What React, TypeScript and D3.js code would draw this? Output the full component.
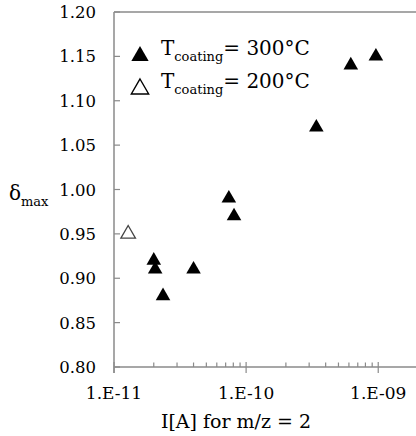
import React from "react"
import * as d3 from "d3"

// data
const hot300X = [2.0e-11, 2.05e-11, 2.35e-11, 4.0e-11, 7.4e-11, 8.1e-11, 3.4e-10, 6.2e-10, 9.6e-10]
const hot300Y = [0.92, 0.91, 0.88, 0.91, 0.99, 0.97, 1.07, 1.14, 1.15]
const hot200X = [1.28e-11]
const hot200Y = [0.95]
const yTicks = [0.8, 0.85, 0.9, 0.95, 1.0, 1.05, 1.1, 1.15, 1.2]
const xMajor = [1e-11, 1e-10, 1e-9]
const xLabels = ["1.E-11", "1.E-10", "1.E-09"]
const legendLabels = ["= 300°C", "= 200°C"]

const W = 416
const H = 436
const FONT = "DejaVu Serif"
const AXIS = "#8a8a8a"

const App = () => {
	const x = d3.scaleLog().domain([1e-11, 2e-9]).range([114, 418])
	const y = d3.scaleLinear().domain([0.8, 1.2]).range([367, 12])
	const x0 = x.range()[0]
	const y0 = y.range()[0]

	const tri = d3.symbol().type(d3.symbolTriangle).size(92)
	const triLegend = d3.symbol().type(d3.symbolTriangle).size(130)

	// minor ticks 2..9 for each decade
	const xMinor: number[] = []
	xMajor.forEach(m => {
		for (let k = 2; k <= 9; k++) {
			const v = m * k
			if (x(v) <= W) xMinor.push(v)
		}
	})

	const pts300 = hot300X.map((v, i) => ({ x: v, y: hot300Y[i] }))
	const pts200 = hot200X.map((v, i) => ({ x: v, y: hot200Y[i] }))

	return (
		<svg
			width={W}
			height={H}
			style={{ position: "absolute", left: 0, top: 0, background: "#fff" }}
		>
			<g fontFamily={FONT}>
				{/* top border */}
				<line x1={x0} x2={W} y1={y.range()[1]} y2={y.range()[1]} stroke={AXIS} strokeWidth={1.5} />
				{/* y axis */}
				<line x1={x0} x2={x0} y1={y.range()[1]} y2={y0 + 6} stroke={AXIS} strokeWidth={1.5} />
				{yTicks.map(t => (
					<g key={t}>
						<line x1={x0} x2={x0 + 6} y1={y(t)} y2={y(t)} stroke={AXIS} strokeWidth={1.2} />
						<text x={96} y={y(t) + 6} textAnchor="end" fontSize={16.5} fill="#000">
							{d3.format(".2f")(t)}
						</text>
					</g>
				))}
				{/* x axis */}
				<line x1={x0} x2={W} y1={y0} y2={y0} stroke={AXIS} strokeWidth={1.5} />
				{xMinor.map(t => (
					<line key={t} x1={x(t)} x2={x(t)} y1={y0} y2={y0 - 4.5} stroke={AXIS} strokeWidth={1.2} />
				))}
				{xMajor.map((t, i) => (
					<g key={t}>
						<line x1={x(t)} x2={x(t)} y1={y0 - 5} y2={y0 + 6} stroke={AXIS} strokeWidth={1.2} />
						<text x={x(t)} y={y0 + 32} textAnchor="middle" fontSize={17} fill="#000">
							{xLabels[i]}
						</text>
					</g>
				))}

				{/* axis titles */}
				<text x={236} y={428} textAnchor="middle" fontSize={19} fill="#000">
					I[A] for m/z = 2
				</text>
				<text x={9} y={200} fontSize={20} fill="#000">
					δ
					<tspan fontSize={13} dy={6}>
						max
					</tspan>
				</text>

				{/* points */}
				{pts300.map((d, i) => (
					<path key={i} d={tri() as string} transform={`translate(${x(d.x)},${y(d.y)})`} fill="#000" />
				))}
				{pts200.map((d, i) => (
					<path
						key={i}
						d={tri() as string}
						transform={`translate(${x(d.x)},${y(d.y)})`}
						fill="#fff"
						stroke="#444"
						strokeWidth={1.3}
					/>
				))}

				{/* legend */}
				{legendLabels.map((lab, i) => (
					<g key={lab} transform={`translate(0,${i * 33})`}>
						<path
							d={triLegend() as string}
							transform="translate(140,56)"
							fill={i === 0 ? "#000" : "#fff"}
							stroke="#000"
							strokeWidth={i === 0 ? 0 : 1.4}
						/>
						<text x={161} y={54.5} fontSize={20} fill="#000">
							T
							<tspan fontSize={13} dy={6}>
								coating
							</tspan>
							<tspan dy={-6}>{lab}</tspan>
						</text>
					</g>
				))}
			</g>
		</svg>
	)
}

export default App
